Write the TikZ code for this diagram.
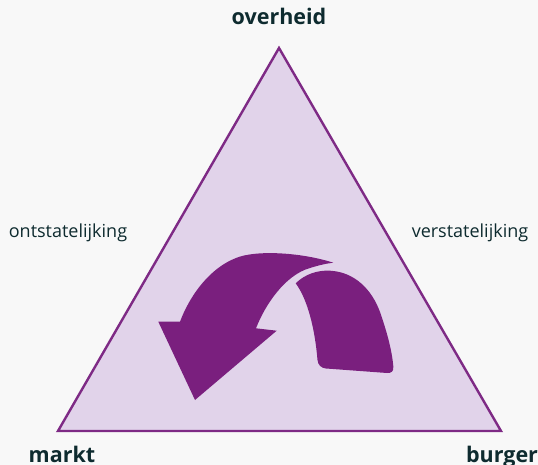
\documentclass[tikz,border=0pt]{standalone}
\usepackage{fontspec}
\setmainfont{Open Sans}
\definecolor{bg}{HTML}{F8F8F8}
\definecolor{trifill}{HTML}{E1D3EA}
\definecolor{triline}{HTML}{7E2A85}
\definecolor{arrowcol}{HTML}{7A1F7E}
\definecolor{txt}{HTML}{0E2B2F}
\tikzset{
  corner/.style={font=\fontsize{21.5}{24}\selectfont\bfseries, text=txt, anchor=base, inner sep=0pt},
  side/.style={font=\fontsize{18}{21}\selectfont, text=txt, anchor=base, inner sep=0pt},
  tri/.style={draw=triline, fill=trifill, line width=2.4pt, line join=miter},
  arrowpart/.style={fill=arrowcol, draw=none}
}
\begin{document}
\begin{tikzpicture}[x=1pt,y=-1pt]
\useasboundingbox (0,0) rectangle (538,465);
\fill[bg] (0,0) rectangle (538,465);
\coordinate (top) at (279,48);
\coordinate (left) at (58,431);
\coordinate (right) at (501,431);
\draw[tri] (top) -- (right) -- (left) -- cycle;
% arrow head part
\fill[arrowpart] (333.3,262.7) .. controls (300,252) and (255,250) .. (236,258)
  .. controls (210,268) and (190,295) .. (180,321.7)
  -- (158.3,321.7) -- (195,400) -- (276.7,330.7) -- (256,328.3)
  .. controls (265,305) and (285,275) .. (310,268)
  .. controls (318,265.5) and (326,263.5) .. (333.3,262.7) -- cycle;
% arrow tail part
\fill[arrowpart] (295.7,283.3) .. controls (305,274) and (318,270) .. (330,270.7)
  .. controls (355,272) and (372,290) .. (380,312)
  .. controls (388,335) and (392,352) .. (393.3,366)
  .. controls (394,372) and (391,373) .. (387,373)
  -- (326,368.5) .. controls (321,368) and (318,365) .. (317.5,360)
  .. controls (315,330) and (308,300) .. (295.7,283.3) -- cycle;
\node[corner] (overheid) at (279,25) {overheid};
\node[corner] (markt) at (62,462.5) {markt};
\node[corner] (burger) at (502,462.5) {burger};
\node[side] (ont) at (68,237.5) {ontstatelijking};
\node[side] (ver) at (470,237.5) {verstatelijking};
\end{tikzpicture}
\end{document}
